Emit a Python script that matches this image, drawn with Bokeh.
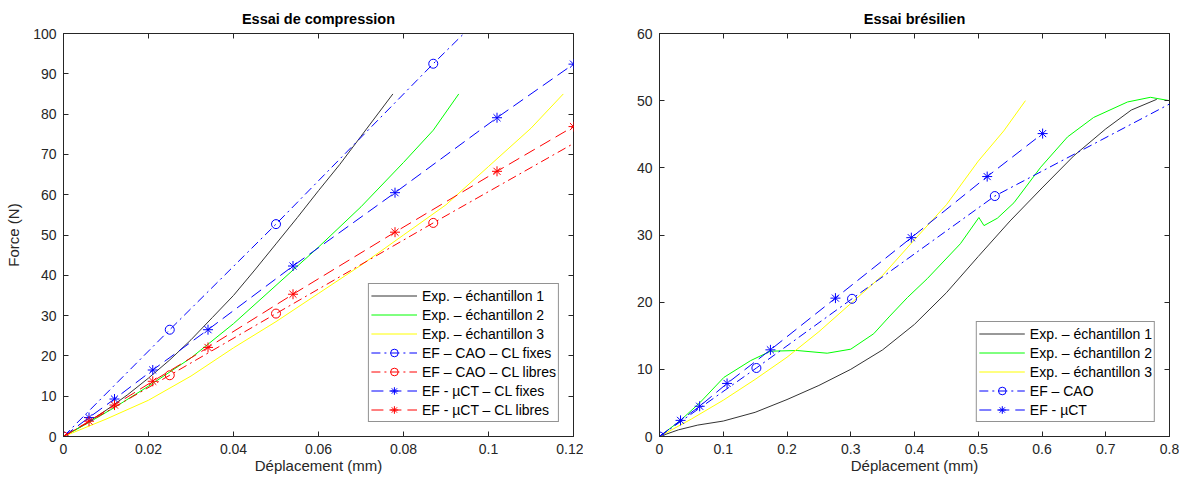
from bokeh.plotting import figure
from bokeh.models import Range1d, FixedTicker, LinearAxis, Legend, LegendItem
from bokeh.layouts import row
from bokeh.embed import file_html
from bokeh.resources import INLINE

FONT = "Liberation Sans"
AX = "#262626"

# ---------------- Essai de compression ----------------
comp_exp1_x = [0, 0.005, 0.01, 0.015, 0.02, 0.025, 0.03, 0.035, 0.04, 0.045, 0.05, 0.055, 0.06, 0.065, 0.07, 0.0775]
comp_exp1_y = [0, 3, 6.5, 10.3, 14.5, 19, 24, 29.5, 35, 41.3, 47.8, 54.3, 61, 67.5, 74.5, 85]
comp_exp2_x = [0, 0.006, 0.012, 0.02, 0.03, 0.04, 0.05, 0.06, 0.07, 0.08, 0.087, 0.093]
comp_exp2_y = [0, 3.5, 7.2, 12.5, 19.5, 28, 37.5, 47, 57, 68, 76, 85]
comp_exp3_x = [0, 0.01, 0.02, 0.03, 0.04, 0.05, 0.06, 0.07, 0.08, 0.09, 0.1, 0.11, 0.1176]
comp_exp3_y = [0, 4.3, 9, 15, 22, 28.5, 35.5, 42.5, 50, 57.5, 67, 76.5, 85]

comp_cao_x = [0, 0.025, 0.05, 0.087, 0.1]
comp_cao_fix_y = [0, 26.5, 52.7, 92.5, 106]
comp_cao_lib_x = [0, 0.025, 0.05, 0.087, 0.12]
comp_cao_lib_y = [0, 15.2, 30.5, 53, 72.7]
comp_cao_mk_x = [0, 0.025, 0.05, 0.087]
comp_cao_fix_mk = [0, 26.5, 52.7, 92.5]
comp_cao_lib_mk = [0, 15.2, 30.5, 53]

comp_uct_x = [0, 0.006, 0.012, 0.021, 0.034, 0.054, 0.078, 0.102, 0.12]
comp_uct_fix_y = [0, 4.7, 9.3, 16.5, 26.5, 42.3, 60.5, 79.1, 92.4]
comp_uct_lib_y = [0, 3.8, 7.8, 13.7, 22.1, 35.3, 50.7, 65.8, 76.9]

comp_xticks = [0, 0.02, 0.04, 0.06, 0.08, 0.1, 0.12]
comp_xlabels = ["0", "0.02", "0.04", "0.06", "0.08", "0.1", "0.12"]
comp_yticks = [0, 10, 20, 30, 40, 50, 60, 70, 80, 90, 100]

# ---------------- Essai brésilien ----------------
bre_exp1_x = [0, 0.03, 0.06, 0.1, 0.15, 0.2, 0.25, 0.3, 0.35, 0.4, 0.45, 0.5, 0.55, 0.6, 0.65, 0.7, 0.74, 0.78]
bre_exp1_y = [0, 1.0, 1.7, 2.3, 3.6, 5.5, 7.6, 10, 12.9, 16.7, 21.4, 26.8, 32.1, 37, 41.8, 45.8, 48.6, 50.2]
bre_exp2_x = [0, 0.033, 0.064, 0.101, 0.143, 0.174, 0.216, 0.263, 0.3, 0.336, 0.36, 0.389, 0.42, 0.472, 0.501, 0.509, 0.53, 0.556, 0.598, 0.64, 0.681, 0.734, 0.77, 0.8]
bre_exp2_y = [0, 2.4, 5.1, 8.8, 11.3, 12.7, 12.8, 12.4, 13, 15.3, 17.8, 20.7, 23.5, 28.7, 32.6, 31.4, 32.5, 34.8, 40.1, 44.6, 47.5, 49.8, 50.5, 50]
bre_exp3_x = [0, 0.05, 0.1, 0.15, 0.2, 0.25, 0.3, 0.35, 0.4, 0.45, 0.5, 0.54, 0.574]
bre_exp3_y = [0, 2.6, 5.4, 8.5, 11.8, 15.6, 19.8, 24, 29.3, 34.5, 41, 45.5, 50]

bre_cao_x = [0, 0.152, 0.302, 0.526, 0.8]
bre_cao_y = [0, 10.2, 20.5, 35.8, 49.5]
bre_cao_mk_x = [0, 0.152, 0.302, 0.526]
bre_cao_mk_y = [0, 10.2, 20.5, 35.8]
bre_uct_x = [0, 0.033, 0.063, 0.106, 0.174, 0.276, 0.395, 0.514, 0.601]
bre_uct_y = [0, 2.4, 4.5, 7.9, 12.9, 20.6, 29.6, 38.7, 45.1]

bre_xticks = [0, 0.1, 0.2, 0.3, 0.4, 0.5, 0.6, 0.7, 0.8]
bre_xlabels = ["0", "0.1", "0.2", "0.3", "0.4", "0.5", "0.6", "0.7", "0.8"]
bre_yticks = [0, 10, 20, 30, 40, 50, 60]

DASH = "12 6"
DASHDOT = "9 4 2 4"


def style(p, xticks, xlabels, yticks, ylabel):
    p.xaxis.ticker = FixedTicker(ticks=xticks)
    p.xaxis.major_label_overrides = {t: l for t, l in zip(xticks, xlabels)}
    p.yaxis.ticker = FixedTicker(ticks=yticks)
    for ax in (p.xaxis[0], p.yaxis[0]):
        ax.major_tick_in = 5
        ax.major_tick_out = 0
        ax.minor_tick_line_color = None
        ax.axis_line_color = AX
        ax.major_tick_line_color = AX
        ax.major_label_text_font = FONT
        ax.major_label_text_font_size = "14px"
        ax.major_label_text_color = AX
        ax.axis_label_text_font = FONT
        ax.axis_label_text_font_size = "15px"
        ax.axis_label_text_font_style = "normal"
        ax.axis_label_text_color = AX
        ax.major_label_standoff = 7
    p.xaxis.axis_label = "Déplacement (mm)"
    p.xaxis.axis_label_standoff = 0
    if ylabel:
        p.yaxis.axis_label = ylabel
        p.yaxis.axis_label_standoff = 8
    for loc, tk in (("above", xticks), ("right", yticks)):
        a = LinearAxis(ticker=FixedTicker(ticks=tk), major_label_text_font_size="1px",
                       major_label_text_color=None,
                       major_tick_in=5, major_tick_out=0, minor_tick_line_color=None,
                       axis_line_color=None, major_tick_line_color=AX, major_label_standoff=0)
        p.add_layout(a, loc)
    p.xgrid.grid_line_color = None
    p.ygrid.grid_line_color = None
    p.outline_line_color = AX
    p.outline_line_width = 1
    p.title.align = "center"
    p.title.text_font = FONT
    p.title.text_font_size = "14.5px"
    p.title.text_font_style = "bold"
    p.title.text_color = "#000000"
    p.title.standoff = 13


H = 477
# ---- Figure 1 ----
p1 = figure(width=583, height=H, x_range=Range1d(0, 0.12), y_range=Range1d(0, 100),
            title="Essai de compression", output_backend="svg", toolbar_location=None,
            min_border_left=63, min_border_right=10, min_border_top=33, min_border_bottom=41)
style(p1, comp_xticks, comp_xlabels, comp_yticks, "Force (N)")

r_e1 = p1.line(comp_exp1_x, comp_exp1_y, line_color="#333333", line_width=1)
r_e2 = p1.line(comp_exp2_x, comp_exp2_y, line_color="#00ff00", line_width=1)
r_e3 = p1.line(comp_exp3_x, comp_exp3_y, line_color="#ffff00", line_width=1)
r_cf = p1.line(comp_cao_x, comp_cao_fix_y, line_color="#0000ff", line_dash=DASHDOT)
r_cfm = p1.scatter(comp_cao_mk_x, comp_cao_fix_mk, marker="circle", size=9, fill_color=None, line_color="#0000ff")
r_cl = p1.line(comp_cao_lib_x, comp_cao_lib_y, line_color="#ff0000", line_dash=DASHDOT)
r_clm = p1.scatter(comp_cao_mk_x, comp_cao_lib_mk, marker="circle", size=9, fill_color=None, line_color="#ff0000")
r_uf = p1.line(comp_uct_x, comp_uct_fix_y, line_color="#0000ff", line_dash=DASH)
r_ufm = p1.scatter(comp_uct_x, comp_uct_fix_y, marker="asterisk", size=10, line_color="#0000ff")
r_ul = p1.line(comp_uct_x, comp_uct_lib_y, line_color="#ff0000", line_dash=DASH)
r_ulm = p1.scatter(comp_uct_x, comp_uct_lib_y, marker="asterisk", size=10, line_color="#ff0000")

leg1 = Legend(items=[
    LegendItem(label="Exp. – échantillon 1", renderers=[r_e1]),
    LegendItem(label="Exp. – échantillon 2", renderers=[r_e2]),
    LegendItem(label="Exp. – échantillon 3", renderers=[r_e3]),
    LegendItem(label="EF – CAO – CL fixes", renderers=[r_cf, r_cfm]),
    LegendItem(label="EF – CAO – CL libres", renderers=[r_cl, r_clm]),
    LegendItem(label="EF - µCT – CL fixes", renderers=[r_uf, r_ufm]),
    LegendItem(label="EF - µCT – CL libres", renderers=[r_ul, r_ulm]),
], location="bottom_right")

# ---- Figure 2 ----
p2 = figure(width=596, height=H, x_range=Range1d(0, 0.8), y_range=Range1d(0, 60),
            title="Essai brésilien", output_backend="svg", toolbar_location=None,
            min_border_left=76, min_border_right=10, min_border_top=33, min_border_bottom=41)
style(p2, bre_xticks, bre_xlabels, bre_yticks, None)

s_e1 = p2.line(bre_exp1_x, bre_exp1_y, line_color="#333333", line_width=1)
s_e2 = p2.line(bre_exp2_x, bre_exp2_y, line_color="#00ff00", line_width=1)
s_e3 = p2.line(bre_exp3_x, bre_exp3_y, line_color="#ffff00", line_width=1)
s_c = p2.line(bre_cao_x, bre_cao_y, line_color="#0000ff", line_dash=DASHDOT)
s_cm = p2.scatter(bre_cao_mk_x, bre_cao_mk_y, marker="circle", size=9, fill_color=None, line_color="#0000ff")
s_u = p2.line(bre_uct_x, bre_uct_y, line_color="#0000ff", line_dash=DASH)
s_um = p2.scatter(bre_uct_x, bre_uct_y, marker="asterisk", size=10, line_color="#0000ff")

leg2 = Legend(items=[
    LegendItem(label="Exp. – échantillon 1", renderers=[s_e1]),
    LegendItem(label="Exp. – échantillon 2", renderers=[s_e2]),
    LegendItem(label="Exp. – échantillon 3", renderers=[s_e3]),
    LegendItem(label="EF – CAO", renderers=[s_c, s_cm]),
    LegendItem(label="EF - µCT", renderers=[s_u, s_um]),
], location="bottom_right")

for p, lg in ((p1, leg1), (p2, leg2)):
    lg.margin = 14
    lg.padding = 2
    lg.spacing = 0
    lg.glyph_width = 46
    lg.glyph_height = 19
    lg.label_height = 19
    lg.label_standoff = 5
    lg.label_text_font = FONT
    lg.label_text_font_size = "14px"
    lg.label_text_color = "#000000"
    lg.border_line_color = AX
    lg.border_line_width = 1
    lg.background_fill_color = "white"
    p.add_layout(lg)

layout = row(p1, p2)
open("out.html", "w").write(file_html(layout, INLINE))
